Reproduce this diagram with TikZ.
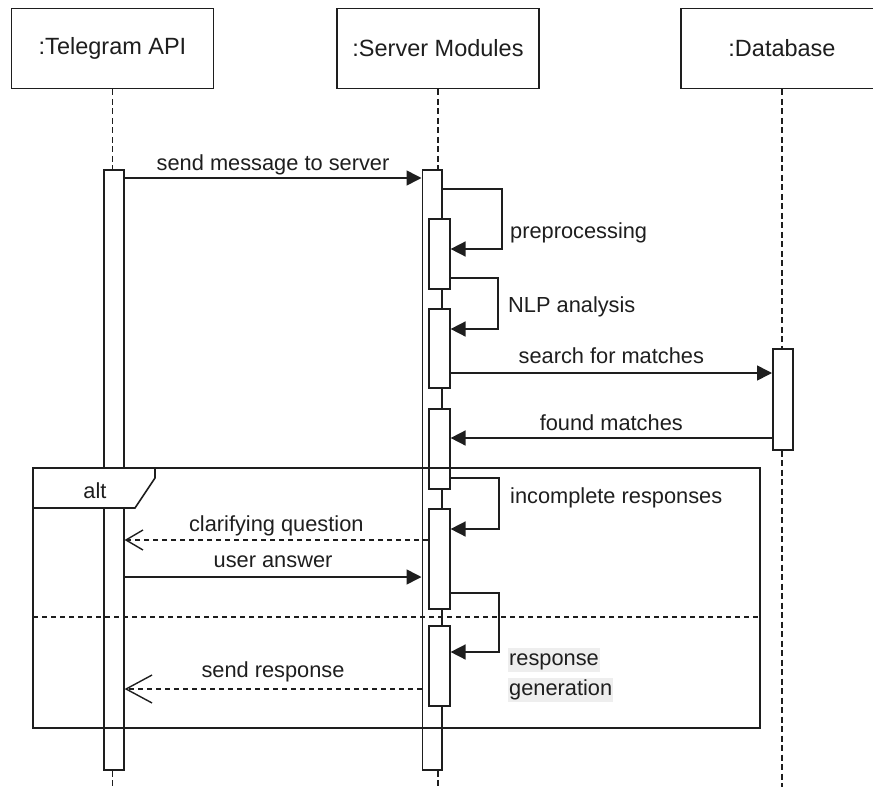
\documentclass[tikz,border=0pt]{standalone}
\usepackage{fontspec}
\setmainfont{Liberation Sans}
\usetikzlibrary{arrows.meta}
\definecolor{ln}{RGB}{30,30,30}
\definecolor{tx}{RGB}{30,30,30}
\definecolor{hlc}{RGB}{238,238,238}
\begin{document}
\begin{tikzpicture}[x=1pt,y=-1pt,
  lbox/.style={draw=ln, line width=1.6pt, fill=white, minimum width=202pt, minimum height=80pt, inner sep=0pt, text=tx, font=\fontsize{23.5}{28}\selectfont},
  actbar/.style={draw=ln, line width=1.6pt, fill=white, inner sep=0pt, anchor=north west},
  life/.style={draw=ln, line width=1.5pt, dash pattern=on 6pt off 3.5pt},
  lbl/.style={font=\fontsize{21.8}{26}\selectfont, inner sep=0pt, text=tx},
  msg/.style={draw=ln, line width=1.6pt, -{Triangle[length=15pt,width=15pt]}},
  retsmall/.style={draw=ln, line width=1.4pt, dash pattern=on 5pt off 4pt, -{Straight Barb[length=17pt,width=20pt,line width=1.4pt]}},
  retbig/.style={draw=ln, line width=1.4pt, dash pattern=on 5pt off 4pt, -{Straight Barb[length=26pt,width=28pt,line width=1.4pt]}},
  hl/.style={lbl, fill=hlc, inner xsep=1pt, text height=16pt, text depth=5pt, inner ysep=1.5pt},
  framestyle/.style={draw=ln, line width=1.6pt},
]
\useasboundingbox (0,0) rectangle (873,787);
\clip (0,0) rectangle (873,787);

% header boxes
\node[lbox] (tg) at (112.5,48.5) {:Telegram API};
\node[lbox] (sv) at (438,48.5) {:Server Modules};
\node[lbox] (db) at (782,48.5) {:Database};

% activation bars
\node[actbar, minimum width=20pt, minimum height=600pt] (tgb) at (103,169) {};
\node[actbar, minimum width=19.5pt, minimum height=600pt] (svb) at (421.5,169) {};
\node[actbar, minimum width=21pt, minimum height=70pt] (i1) at (428,218) {};
\node[actbar, minimum width=21pt, minimum height=79pt] (i2) at (428,308) {};
\node[actbar, minimum width=21pt, minimum height=80pt] (i3) at (428,408) {};
\node[actbar, minimum width=21pt, minimum height=100pt] (i4) at (428,508) {};
\node[actbar, minimum width=21pt, minimum height=80pt] (i5) at (428,625) {};
\node[actbar, minimum width=20pt, minimum height=101pt] (dbb) at (772,348) {};

% lifelines
\draw[life] (tg.south) -- (tg.south |- tgb.north);
\draw[life] (tg.south |- tgb.south) -- ++(0,22);
\draw[life] (sv.south) -- (sv.south |- svb.north);
\draw[life] (sv.south |- svb.south) -- ++(0,22);
\draw[life] (db.south) -- (db.south |- dbb.north);
\draw[life] (db.south |- dbb.south) -- ++(0,345);

% messages
\draw[msg] (tgb.east |- 0,178) -- node[lbl, anchor=base, yshift=8pt] {send message to server} (svb.west |- 0,178);
\draw[msg] (svb.east |- 0,189) -- (502,189) |- (i1.east |- 0,249);
\node[lbl, anchor=base west] (lpre) at (510,238) {preprocessing};
\draw[msg] (i1.east |- 0,278) -- (498,278) |- (i2.east |- 0,329);
\node[lbl, anchor=base west] (lnlp) at (508,312) {NLP analysis};
\draw[msg] (i2.east |- 0,373) -- node[lbl, anchor=base, yshift=9.5pt] {search for matches} (dbb.west |- 0,373);
\draw[msg] (dbb.west |- 0,438) -- node[lbl, anchor=base, yshift=8pt] {found matches} (i3.east |- 0,438);
\draw[msg] (i3.east |- 0,478) -- (499,478) |- (i4.east |- 0,529);
\node[lbl, anchor=base west] (linc) at (510,503) {incomplete responses};
\draw[retsmall] (i4.west |- 0,540) -- node[lbl, anchor=base, yshift=9pt] {clarifying question} (tgb.east |- 0,540);
\draw[msg] (tgb.east |- 0,577) -- node[lbl, anchor=base, yshift=10pt] {user answer} (svb.west |- 0,577);
\draw[msg] (i4.east |- 0,593) -- (499,593) |- (i5.east |- 0,652);
\node[hl, anchor=base west] (lresp) at (508,665) {response\hspace{9pt}};
\node[hl, anchor=base west] (lgen) at (508,695) {generation\hspace{11pt}};
\draw[retbig] (svb.west |- 0,689) -- node[lbl, anchor=base, yshift=12pt] {send response} (tgb.east |- 0,689);

% alt frame
\draw[framestyle] (33,468) rectangle (760,728);
\draw[framestyle, fill=white] (33,468) -- (155,468) -- (155,478) -- (135,508) -- (33,508) -- cycle;
\node[lbl, anchor=base] (alt) at (95,498) {alt};
\draw[draw=ln, line width=1.4pt, dash pattern=on 5pt off 4pt] (33,617) -- (760,617);
\end{tikzpicture}
\end{document}
